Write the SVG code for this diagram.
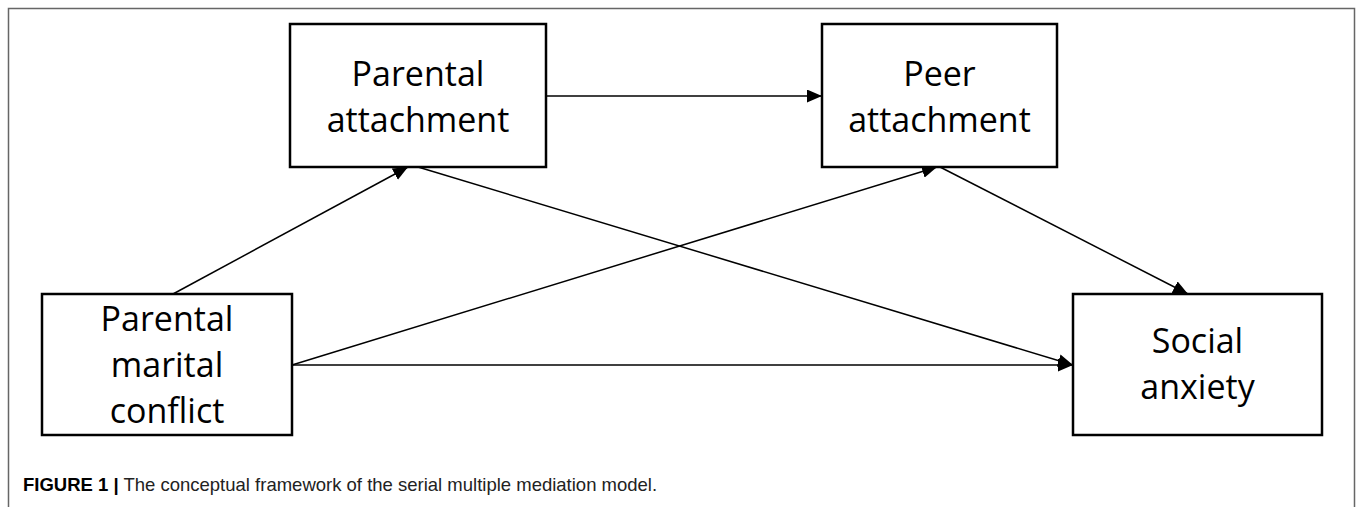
<svg xmlns="http://www.w3.org/2000/svg" width="1357" height="507" viewBox="0 0 1357 507">
<style>
.frame{fill:none;stroke:#666;stroke-width:1.5}
.box{fill:#fff;stroke:#000;stroke-width:2.5}
.lbl{font-family:"Open Sans","Noto Sans",sans-serif;font-size:34px;fill:#000;text-anchor:middle}
.conn{stroke:#000;stroke-width:1.5;fill:none;marker-end:url(#arr)}
.cap{font-family:"Liberation Sans",Arial,sans-serif;font-size:18.5px;fill:#222}
</style>
<defs>
<marker id="arr" viewBox="0 0 15 13" refX="15" refY="6.5" markerWidth="15" markerHeight="13" markerUnits="userSpaceOnUse" orient="auto">
<path d="M0,0 L15,6.5 L0,13 z" fill="#000"/>
</marker>
</defs>
<rect width="1357" height="507" fill="#fff"/>
<path class="frame" d="M8.5,507 V8.5 H1354.5 V507"/>
<g id="connectors">
<line class="conn" x1="546" y1="96" x2="822" y2="96"/>
<line class="conn" x1="173" y1="294" x2="408" y2="167"/>
<line class="conn" x1="418" y1="167" x2="1073" y2="365"/>
<line class="conn" x1="292" y1="365" x2="937" y2="167"/>
<line class="conn" x1="292" y1="365" x2="1073" y2="365"/>
<line class="conn" x1="940" y1="167" x2="1188" y2="294"/>
</g>
<g id="node-parental-attachment">
<rect class="box" x="290" y="24" width="256" height="143"/>
<text class="lbl" x="418" y="86">Parental</text>
<text class="lbl" x="418" y="132">attachment</text>
</g>
<g id="node-peer-attachment">
<rect class="box" x="822" y="24" width="235" height="143"/>
<text class="lbl" x="939.5" y="86">Peer</text>
<text class="lbl" x="939.5" y="132">attachment</text>
</g>
<g id="node-parental-marital-conflict">
<rect class="box" x="42" y="294" width="250" height="141"/>
<text class="lbl" x="167" y="331">Parental</text>
<text class="lbl" x="167" y="377">marital</text>
<text class="lbl" x="167" y="423">conflict</text>
</g>
<g id="node-social-anxiety">
<rect class="box" x="1073" y="294" width="249" height="141"/>
<text class="lbl" x="1197.5" y="353">Social</text>
<text class="lbl" x="1197.5" y="399">anxiety</text>
</g>
<text class="cap" x="23" y="491"><tspan font-weight="bold" fill="#000">FIGURE 1 |</tspan> The conceptual framework of the serial multiple mediation model.</text>
</svg>
